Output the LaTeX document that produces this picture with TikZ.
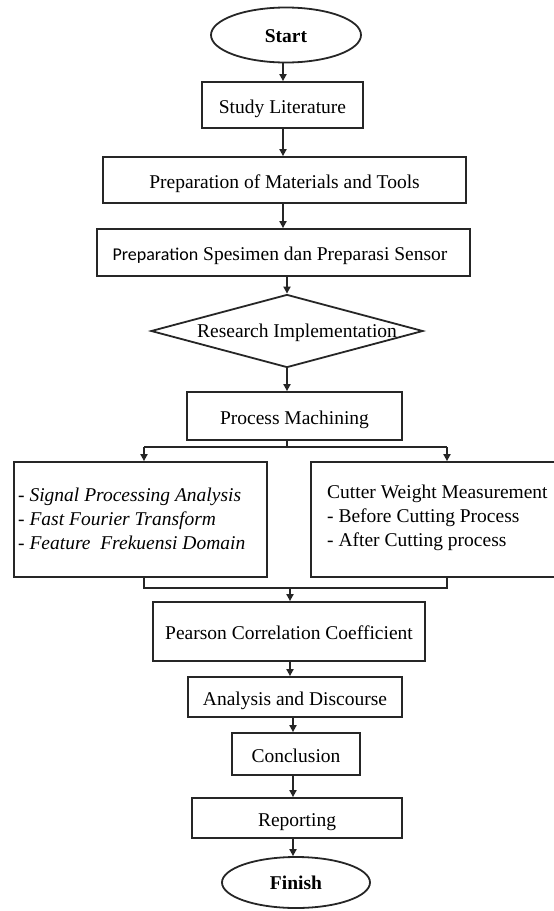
\documentclass[tikz,border=0pt]{standalone}
\usepackage{fontspec}
\setmainfont{Liberation Serif}
\newfontfamily\prepfont{Carlito}
\usetikzlibrary{arrows.meta,shapes.geometric}
\begin{document}
\begin{tikzpicture}[x=1pt,y=-1pt,
  every node/.style={font=\fontsize{19.5}{24}\selectfont},
  line/.style={line width=1.8pt,draw=black!85},
  arr/.style={line, -{Triangle[length=7pt,width=7pt]}},
  boxnode/.style={draw=black!85,line width=1.8pt,rectangle,inner sep=0pt,text height=16pt,text depth=0pt},
  term/.style={draw=black!85,line width=1.8pt,ellipse,inner sep=0pt,text height=14pt,text depth=0pt,font=\fontsize{19.5}{24}\selectfont\bfseries},
  plain/.style={inner sep=0pt}]
\useasboundingbox (0,0) rectangle (554,911);
\node[term,minimum width=150pt,minimum height=55pt] (start) at (286,35) {Start};
\node[boxnode,minimum width=161pt,minimum height=46pt] (study) at (282.5,105) {Study Literature};
\node[boxnode,minimum width=363pt,minimum height=46pt] (prepmat) at (284.5,180) {Preparation of Materials and Tools};
\node[boxnode,minimum width=373pt,minimum height=47pt] (prepspec) at (283.5,252.5) {};
\node[plain,text height=16pt,text depth=0pt] (prepspectext) at (280,252.5) {{\prepfont\fontsize{18}{22}\selectfont Preparation} Spesimen dan Preparasi Sensor};
\node[boxnode,diamond,minimum width=272pt,minimum height=73pt] (dec) at (287,331) {};
\node[plain,text height=12pt,text depth=0pt] (dectext) at (297,331) {Research Implementation};
\node[boxnode,minimum width=215pt,minimum height=48pt] (proc) at (294.5,416) {Process Machining};
\node[boxnode,minimum width=253pt,minimum height=115pt] (left) at (140.5,519.5) {};
\node[plain,anchor=west,align=left] (lefttext) at (18,518.5) {- \textit{Signal Processing Analysis}\\- \textit{Fast Fourier Transform}\\- \textit{Feature\ \ Frekuensi Domain}};
\node[boxnode,minimum width=249pt,minimum height=115pt] (right) at (435.5,519.5) {};
\node[plain,anchor=west,align=left] (righttext) at (327,518) {Cutter Weight Measurement\\- Before Cutting Process\\- After Cutting process};
\node[boxnode,minimum width=272pt,minimum height=59pt] (pearson) at (289,631.5) {Pearson Correlation Coefficient};
\node[boxnode,minimum width=214pt,minimum height=40pt] (anal) at (295,697) {Analysis and Discourse};
\node[boxnode,minimum width=128pt,minimum height=42pt] (concl) at (296,754) {Conclusion};
\node[boxnode,minimum width=210pt,minimum height=40pt] (report) at (297,818) {Reporting};
\node[term,minimum width=148pt,minimum height=51pt] (finish) at (296,882.5) {Finish};
% chain arrows
\draw[arr] (283,0 |- start.south) -- (283,0 |- study.north);
\draw[arr] (283,0 |- study.south) -- (283,0 |- prepmat.north);
\draw[arr] (283,0 |- prepmat.south) -- (283,0 |- prepspec.north);
\draw[arr] (287,0 |- prepspec.south) -- (dec.north);
\draw[arr] (dec.south) -- (287,0 |- proc.north);
% branch
\coordinate (bL) at (144,447);
\coordinate (bR) at (447,447);
\draw[line] (287,0 |- proc.south) -- (287,447);
\draw[line] (bL) -- (bR);
\draw[arr] (bL) -- (bL |- left.north);
\draw[arr] (bR) -- (bR |- right.north);
% merge
\coordinate (mL) at (144,588);
\coordinate (mR) at (447,588);
\coordinate (mJ) at (290,588);
\draw[line] (mL |- left.south) -- (mL) -- (mR) -- (mR |- right.south);
\draw[arr] (mJ) -- (mJ |- pearson.north);
\draw[arr] (290,0 |- pearson.south) -- (290,0 |- anal.north);
\draw[arr] (293,0 |- anal.south) -- (293,0 |- concl.north);
\draw[arr] (293,0 |- concl.south) -- (293,0 |- report.north);
\draw[arr] (293,0 |- report.south) -- (293,0 |- finish.north);
\end{tikzpicture}
\end{document}
